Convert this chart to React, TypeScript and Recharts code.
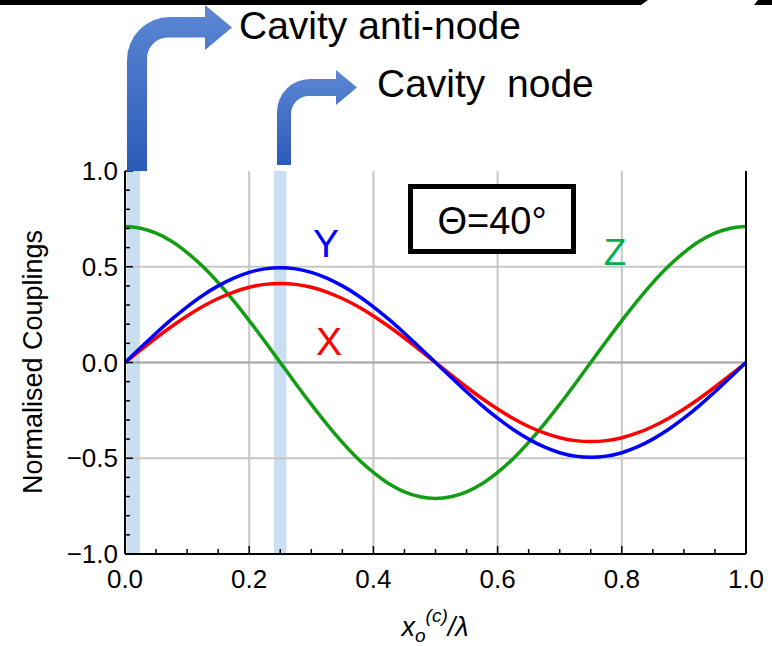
import { LineChart, Line, XAxis, YAxis, ReferenceLine, ReferenceArea } from 'recharts'

// positions along the cavity, x_o^(c)/λ
const POSITIONS = [
  0, 0.025, 0.05, 0.075, 0.1, 0.125, 0.15, 0.175, 0.2, 0.225, 0.25, 0.275, 0.3, 0.325,
  0.35, 0.375, 0.4, 0.425, 0.45, 0.475, 0.5, 0.525, 0.55, 0.575, 0.6, 0.625, 0.65, 0.675,
  0.7, 0.725, 0.75, 0.775, 0.8, 0.825, 0.85, 0.875, 0.9, 0.925, 0.95, 0.975, 1,
]

const COUPLING_X = [
  0, 0.065, 0.128, 0.188, 0.243, 0.292, 0.334, 0.368, 0.393, 0.408, 0.413, 0.408, 0.393, 0.368,
  0.334, 0.292, 0.243, 0.188, 0.128, 0.065, 0, -0.065, -0.128, -0.188, -0.243, -0.292, -0.334, -0.368,
  -0.393, -0.408, -0.413, -0.408, -0.393, -0.368, -0.334, -0.292, -0.243, -0.188, -0.128, -0.065, 0,
]

const COUPLING_Y = [
  0, 0.077, 0.153, 0.225, 0.291, 0.35, 0.4, 0.441, 0.471, 0.489, 0.495, 0.489, 0.471, 0.441,
  0.4, 0.35, 0.291, 0.225, 0.153, 0.077, 0, -0.077, -0.153, -0.225, -0.291, -0.35, -0.4, -0.441,
  -0.471, -0.489, -0.495, -0.489, -0.471, -0.441, -0.4, -0.35, -0.291, -0.225, -0.153, -0.077, 0,
]

const COUPLING_Z = [
  0.71, 0.701, 0.675, 0.633, 0.574, 0.502, 0.417, 0.322, 0.219, 0.111, 0, -0.111, -0.219, -0.322,
  -0.417, -0.502, -0.574, -0.633, -0.675, -0.701, -0.71, -0.701, -0.675, -0.633, -0.574, -0.502, -0.417, -0.322,
  -0.219, -0.111, 0, 0.111, 0.219, 0.322, 0.417, 0.502, 0.574, 0.633, 0.675, 0.701, 0.71,
]

const X_TICKS = [
  0, 0.05, 0.1, 0.15, 0.2, 0.25, 0.3, 0.35, 0.4, 0.45, 0.5, 0.55, 0.6, 0.65, 0.7, 0.75, 0.8, 0.85, 0.9, 0.95, 1,
]
const Y_TICKS = [
  -1, -0.9, -0.8, -0.7, -0.6, -0.5, -0.4, -0.3, -0.2, -0.1, 0, 0.1, 0.2, 0.3, 0.4, 0.5, 0.6, 0.7, 0.8, 0.9, 1,
]
const X_GRID = [0.2, 0.4, 0.6, 0.8]
const Y_GRID = [-0.5, 0.5]
// anti-node band, node band
const BANDS = [
  [0.0025, 0.024],
  [0.24, 0.26],
]

const data = POSITIONS.map((p, i) => ({
  pos: p,
  x: COUPLING_X[i],
  y: COUPLING_Y[i],
  z: COUPLING_Z[i],
}))

const FONT = 'Arial, "Liberation Sans", Helvetica, sans-serif'

const isMajorX = (v: number) => Math.round(v * 20) % 4 === 0
const isMajorY = (v: number) => Math.abs(Math.round(v * 10)) % 5 === 0
const fmt = (v: number) => v.toFixed(1).replace('-', '\u2212')

function BottomTick(props: any) {
  const { x, y, payload } = props
  const major = isMajorX(payload.value)
  return (
    <g>
      <line x1={x} x2={x} y1={y} y2={y - (major ? 8 : 5)} stroke="#000" strokeWidth={1.5} />
      {major && (
        <text x={x} y={y + 34} textAnchor="middle" fontSize={26} fontFamily={FONT} fill="#000">
          {fmt(payload.value)}
        </text>
      )}
    </g>
  )
}

function TopTick(props: any) {
  const { x, y, payload } = props
  const major = isMajorX(payload.value)
  return <line x1={x} x2={x} y1={y} y2={y + (major ? 8 : 5)} stroke="#000" strokeWidth={1.5} />
}

function LeftTick(props: any) {
  const { x, y, payload } = props
  const major = isMajorY(payload.value)
  return (
    <g>
      <line x1={x} x2={x + (major ? 8 : 5)} y1={y} y2={y} stroke="#000" strokeWidth={1.5} />
      {major && (
        <text x={x - 7} y={y + 9} textAnchor="end" fontSize={26} fontFamily={FONT} fill="#000">
          {fmt(payload.value)}
        </text>
      )}
    </g>
  )
}

function RightTick(props: any) {
  const { x, y, payload } = props
  const major = isMajorY(payload.value)
  return <line x1={x} x2={x - (major ? 8 : 5)} y1={y} y2={y} stroke="#000" strokeWidth={1.5} />
}

const frame = { stroke: '#000', strokeWidth: 2 }

function Annotations() {
  return (
    <svg
      width={772}
      height={646}
      style={{ position: 'absolute', left: 0, top: 0, pointerEvents: 'none' }}
      fontFamily={FONT}
    >
      <defs>
        <linearGradient id="arrowFill" x1="0" y1="0" x2="0" y2="1">
          <stop offset="0" stopColor="#5c87d4" />
          <stop offset="1" stopColor="#2b5bb8" />
        </linearGradient>
      </defs>

      {/* cropped black strip at the very top */}
      <path d="M0,0 H648 L641,5 H0 Z" fill="#000" />
      <path d="M758,0 H772 V5 H754 Z" fill="#000" />

      {/* bent arrows */}
      <path
        d="M127,171 V60 A43 43 0 0 1 170,17 H205 V5 L232,27.5 L205,50 V37.5 H168 A21 21 0 0 0 147,58.5 V171 Z"
        fill="url(#arrowFill)"
      />
      <path
        d="M277,165 V112 A33 33 0 0 1 310,79 H336 V70 L357,87.5 L336,105 V96 H309 A18 18 0 0 0 291,114 V165 Z"
        fill="url(#arrowFill)"
      />
      <text x={239} y={39} fontSize={39} fill="#000">
        Cavity anti-node
      </text>
      <text x={377} y={97} fontSize={39} fill="#000" style={{ whiteSpace: 'pre' }}>
        {'Cavity  node'}
      </text>

      {/* angle box */}
      <rect x={410.5} y={186.5} width={163} height={65} fill="#fff" stroke="#000" strokeWidth={5} />
      <text x={492} y={234} fontSize={38} textAnchor="middle" fill="#000">
        Θ=40°
      </text>

      {/* curve labels */}
      <text x={326} y={257} fontSize={39} textAnchor="middle" fill="#0000ff">
        Y
      </text>
      <text x={329} y={355} fontSize={39} textAnchor="middle" fill="#ff0000">
        X
      </text>
      <text x={615} y={265} fontSize={37} textAnchor="middle" fill="#00b050">
        Z
      </text>

      {/* axis titles */}
      <text transform="translate(42,362) rotate(-90)" fontSize={27} textAnchor="middle" fill="#000">
        Normalised Couplings
      </text>
      <text x={435} y={636} textAnchor="middle" fill="#000" fontStyle="italic">
        <tspan fontSize={27}>x</tspan>
        <tspan fontSize={19} dy={6}>o</tspan>
        <tspan fontSize={19} dy={-20}>(c)</tspan>
        <tspan fontSize={27} dy={14}>/λ</tspan>
      </text>
    </svg>
  )
}

export default function App() {
  return (
    <div style={{ position: 'absolute', left: 0, top: 0, width: 772, height: 646, background: '#fff' }}>
      <LineChart
        width={772}
        height={646}
        data={data}
        margin={{ top: 171, right: 0, bottom: 0, left: 0 }}
      >
        <XAxis
          xAxisId="b"
          dataKey="pos"
          type="number"
          domain={[0, 1]}
          ticks={X_TICKS}
          interval={0}
          height={92}
          tickSize={0}
          tickMargin={0}
          tickLine={false}
          axisLine={frame}
          tick={<BottomTick />}
        />
        <XAxis
          xAxisId="t"
          orientation="top"
          type="number"
          domain={[0, 1]}
          ticks={X_TICKS}
          interval={0}
          height={0}
          tickSize={0}
          tickMargin={0}
          tickLine={false}
          axisLine={frame}
          tick={<TopTick />}
        />
        <YAxis
          yAxisId="l"
          type="number"
          domain={[-1, 1]}
          ticks={Y_TICKS}
          interval={0}
          width={125}
          tickSize={0}
          tickMargin={0}
          tickLine={false}
          axisLine={frame}
          tick={<LeftTick />}
        />
        <YAxis
          yAxisId="r"
          orientation="right"
          type="number"
          domain={[-1, 1]}
          ticks={Y_TICKS}
          interval={0}
          width={26}
          tickSize={0}
          tickMargin={0}
          tickLine={false}
          axisLine={frame}
          tick={<RightTick />}
        />

        {BANDS.map(([a, b]) => (
          <ReferenceArea
            key={a}
            xAxisId="b"
            yAxisId="l"
            x1={a}
            x2={b}
            y1={-1}
            y2={1}
            fill="#c9def0"
            fillOpacity={1}
            stroke="none"
          />
        ))}
        {X_GRID.map((g) => (
          <ReferenceLine key={`gx${g}`} xAxisId="b" yAxisId="l" x={g} stroke="#c6c6c6" strokeWidth={2} />
        ))}
        {Y_GRID.map((g) => (
          <ReferenceLine key={`gy${g}`} xAxisId="b" yAxisId="l" y={g} stroke="#c6c6c6" strokeWidth={2} />
        ))}
        <ReferenceLine xAxisId="b" yAxisId="l" y={0} stroke="#a2a2a2" strokeWidth={2} />

        <Line
          xAxisId="b"
          yAxisId="l"
          dataKey="z"
          type="monotone"
          stroke="#129e12"
          strokeWidth={3.5}
          dot={false}
          activeDot={false}
          isAnimationActive={false}
        />
        <Line
          xAxisId="b"
          yAxisId="l"
          dataKey="x"
          type="monotone"
          stroke="#ff0000"
          strokeWidth={3.5}
          dot={false}
          activeDot={false}
          isAnimationActive={false}
        />
        <Line
          xAxisId="b"
          yAxisId="l"
          dataKey="y"
          type="monotone"
          stroke="#0000ff"
          strokeWidth={3.5}
          dot={false}
          activeDot={false}
          isAnimationActive={false}
        />
      </LineChart>
      <Annotations />
    </div>
  )
}
